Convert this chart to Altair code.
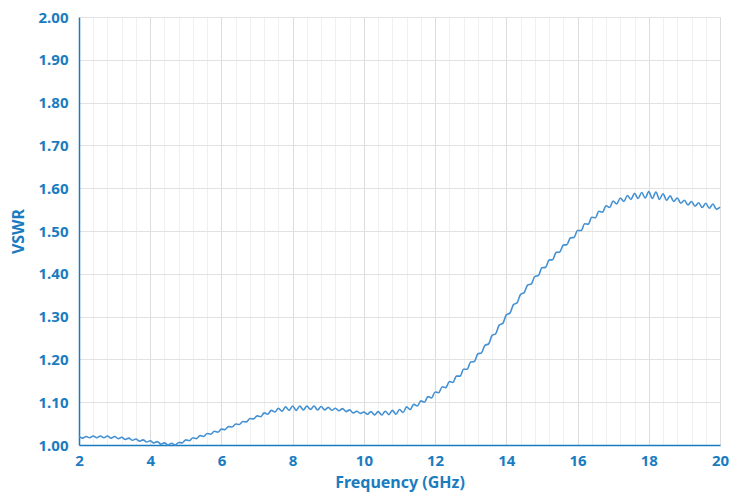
import altair as alt
import pandas as pd

freq_ghz = [round(2 + 0.1 * i, 1) for i in range(181)]

vswr = [
    1.020, 1.016, 1.020, 1.017, 1.021, 1.017, 1.021, 1.017, 1.021, 1.016,  # 2.0-2.9
    1.020, 1.015, 1.018, 1.013, 1.016, 1.011, 1.014, 1.009, 1.012, 1.007,  # 3.0-3.9
    1.010, 1.005, 1.008, 1.002, 1.005, 1.000, 1.004, 1.000, 1.006, 1.005,  # 4.0-4.9
    1.012, 1.010, 1.017, 1.015, 1.022, 1.020, 1.027, 1.025, 1.032, 1.030,  # 5.0-5.9
    1.037, 1.036, 1.043, 1.042, 1.049, 1.048, 1.055, 1.054, 1.062, 1.061,  # 6.0-6.9
    1.068, 1.066, 1.075, 1.072, 1.081, 1.077, 1.086, 1.079, 1.089, 1.081,  # 7.0-7.9
    1.091, 1.081, 1.091, 1.082, 1.091, 1.083, 1.091, 1.082, 1.090, 1.082,  # 8.0-8.9
    1.088, 1.081, 1.086, 1.080, 1.085, 1.078, 1.082, 1.075, 1.079, 1.074,  # 9.0-9.9
    1.077, 1.072, 1.078, 1.070, 1.078, 1.070, 1.079, 1.071, 1.081, 1.072,  # 10.0-10.9
    1.083, 1.076, 1.089, 1.083, 1.095, 1.091, 1.103, 1.100, 1.113, 1.110,  # 11.0-11.9
    1.124, 1.122, 1.136, 1.134, 1.148, 1.146, 1.161, 1.161, 1.177, 1.177,  # 12.0-12.9
    1.194, 1.195, 1.213, 1.215, 1.233, 1.236, 1.256, 1.260, 1.280, 1.284,  # 13.0-13.9
    1.304, 1.308, 1.328, 1.332, 1.352, 1.356, 1.374, 1.376, 1.394, 1.396,  # 14.0-14.9
    1.414, 1.415, 1.432, 1.433, 1.450, 1.451, 1.467, 1.468, 1.484, 1.485,  # 15.0-15.9
    1.501, 1.501, 1.517, 1.516, 1.532, 1.531, 1.546, 1.544, 1.559, 1.555,  # 16.0-16.9
    1.570, 1.563, 1.577, 1.569, 1.583, 1.574, 1.588, 1.576, 1.590, 1.577,  # 17.0-17.9
    1.592, 1.576, 1.591, 1.574, 1.587, 1.572, 1.582, 1.569, 1.577, 1.565,  # 18.0-18.9
    1.572, 1.561, 1.569, 1.558, 1.566, 1.555, 1.565, 1.553, 1.563, 1.551,  # 19.0-19.9
    1.556,                                                                 # 20.0
]

major_x_ticks = [2, 4, 6, 8, 10, 12, 14, 16, 18, 20]
minor_x_ticks = [round(2 + 0.4 * i, 1) for i in range(46) if (round(2 + 0.4 * i, 1)) % 2 != 0]
y_ticks = [1.0, 1.1, 1.2, 1.3, 1.4, 1.5, 1.6, 1.7, 1.8, 1.9, 2.0]

df = pd.DataFrame({"freq": freq_ghz, "vswr": vswr})

LABEL_BLUE = "#1a7cc0"
LINE_BLUE = "#4390d2"
FONT = "Noto Sans"

xscale = alt.Scale(domain=[2, 20], nice=False, zero=False)
yscale = alt.Scale(domain=[1.0, 2.0], nice=False, zero=False)

yaxis = alt.Axis(values=y_ticks, format=".2f", grid=True, gridColor="#e2e2e2",
                 ticks=False, domainColor=LABEL_BLUE, domainWidth=1.5,
                 labelColor=LABEL_BLUE, labelFont=FONT, labelFontSize=15,
                 labelFontWeight="bold", labelPadding=11, labelFlush=False,
                 title="VSWR", titleColor=LABEL_BLUE, titleFont=FONT,
                 titleFontSize=16, titleFontWeight="bold", titlePadding=12)

minor = alt.Chart(df).mark_line(opacity=0).encode(
    x=alt.X("freq:Q", scale=xscale,
            axis=alt.Axis(orient="top", values=minor_x_ticks, labels=False, ticks=False,
                          domain=False, title=None, grid=True, gridColor="#f0f0f0",
                          gridWidth=1)),
    y=alt.Y("vswr:Q", scale=yscale, axis=yaxis),
)

main = alt.Chart(df).mark_line(color=LINE_BLUE, strokeWidth=1.6, interpolate="monotone").encode(
    x=alt.X("freq:Q", scale=xscale,
            axis=alt.Axis(orient="bottom", values=major_x_ticks, format="d", grid=True,
                          gridColor="#dcdcdc", ticks=False, domainColor=LABEL_BLUE,
                          domainWidth=1.5, labelColor=LABEL_BLUE, labelFont=FONT,
                          labelFontSize=15, labelFontWeight="bold", labelPadding=8,
                          labelFlush=False,
                          title="Frequency (GHz)", titleColor=LABEL_BLUE, titleFont=FONT,
                          titleFontSize=16, titleFontWeight="bold", titlePadding=6)),
    y=alt.Y("vswr:Q", scale=yscale, axis=yaxis),
)

chart = alt.layer(minor, main).resolve_axis(x="independent").properties(
    width=641, height=428,
    autosize=alt.AutoSizeParams(type="none"),
    padding={"left": 71, "top": 9, "right": 18, "bottom": 49},
).configure_view(strokeWidth=0)

chart.save("out.html", embed_options={"renderer": "svg", "actions": False})
